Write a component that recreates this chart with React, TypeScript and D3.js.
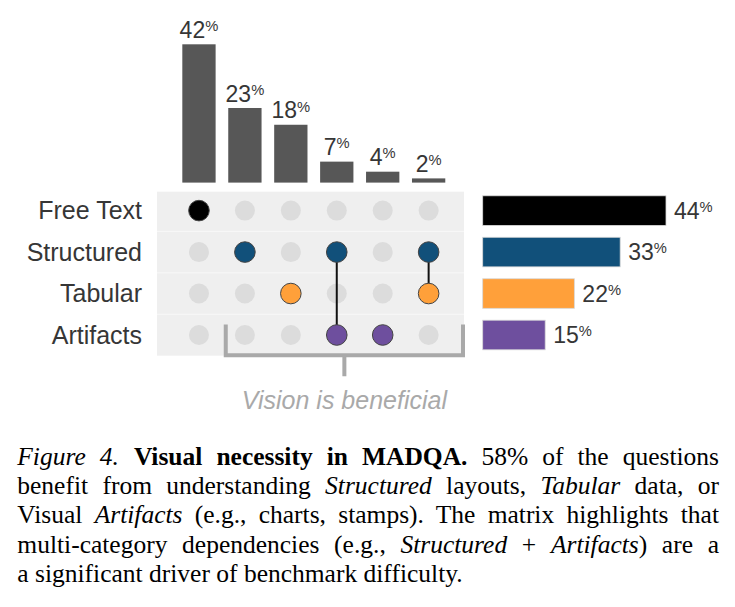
import React, { useLayoutEffect, useRef } from 'react';
import * as d3 from 'd3';

// categories (rows of the matrix) and their overall share
const categories = ['Free Text', 'Structured', 'Tabular', 'Artifacts'];
const categoryShares = [44, 33, 22, 15];
const categoryColors = ['#000000', '#11507a', '#ffa03a', '#6e4f9e'];

// intersections (columns) and their share of questions
const intersectionSets = [
  ['Free Text'],
  ['Structured'],
  ['Tabular'],
  ['Structured', 'Artifacts'],
  ['Artifacts'],
  ['Structured', 'Tabular'],
];
const intersectionShares = [42, 23, 18, 7, 4, 2];

const bracketLabel = 'Vision is beneficial';

const W = 735;
const H = 607;
const FONT = '"Liberation Sans", Arial, Helvetica, sans-serif';
const SERIF = '"Liberation Serif", "Times New Roman", Times, serif';
const TEXT = '#363636';
const FIG_GAP = 15;

export default function App() {
  const captionRefs = useRef<(SVGTextElement | null)[]>([]);

  // column scale shared by top bars and the matrix
  const x = d3.scaleBand<number>()
    .domain(intersectionSets.map((_, i) => i))
    .range([176, 451.6])
    .paddingInner(0.275)
    .paddingOuter(0.1375);
  const cx = (i: number) => (x(i) ?? 0) + x.bandwidth() / 2;

  // top bars: zero sits a little under the cut-off line
  const barBottom = 182.6;
  const y = d3.scaleLinear().domain([0, 42]).range([185.1, 44.3]);

  // rows
  const row = d3.scalePoint<string>().domain(categories).range([210.6, 335]);
  const rowStep = row.step();
  const matrixLeft = 157;
  const matrixRight = 464;
  const matrixTop = 191.7;
  const matrixBottom = 355.7;

  // right bars
  const xr = d3.scaleLinear().domain([0, 44]).range([482.7, 666]);

  const vision = [1, 2, 3, 4, 5];
  const bLeft = (x(vision[0]) ?? 0) - 2.5;
  const bRight = matrixRight - 1;
  const bMid = (bLeft + bRight) / 2;
  const bTop = (row('Artifacts') ?? 0) - 10.5;
  const bY = matrixBottom - 0.5;

  const captionLeft = 17.3;
  const captionRight = 719;
  const captionBase = 465;
  const captionStep = 29.2;

  // justify caption lines (all but the last) by stretching word spacing
  useLayoutEffect(() => {
    const els = captionRefs.current;
    els.forEach((el, i) => {
      if (!el || i === els.length - 1) return;
      el.style.wordSpacing = '0px';
      const w = el.getComputedTextLength() + (i === 0 ? FIG_GAP : 0);
      const spaces = (el.textContent || '').split(' ').length - 1;
      if (spaces > 0) el.style.wordSpacing = `${(captionRight - captionLeft - w) / spaces}px`;
    });
  }, []);

  const pct = (v: number, size: number) => (
    <>
      <tspan fontSize={size}>{v}</tspan>
      <tspan fontSize={size * 0.64} dy={-size * 0.3}>%</tspan>
    </>
  );

  const it = { fontStyle: 'italic' } as const;
  const captionLines: React.ReactNode[] = [
    <>
      <tspan style={it}>Figure 4.</tspan>
      <tspan dx={FIG_GAP} fontWeight="bold">Visual necessity in MADQA.</tspan> 58% of the questions
    </>,
    <>
      benefit from understanding <tspan style={it}>Structured</tspan> layouts, <tspan style={it}>Tabular</tspan> data, or
    </>,
    <>
      Visual <tspan style={it}>Artifacts</tspan> (e.g., charts, stamps). The matrix highlights that
    </>,
    <>
      multi-category dependencies (e.g., <tspan style={it}>Structured</tspan> + <tspan style={it}>Artifacts</tspan>) are a
    </>,
    <>a significant driver of benchmark difficulty.</>,
  ];

  return (
    <svg width={W} height={H} style={{ position: 'absolute', left: 0, top: 0, background: '#fff' }}>
      {/* top intersection bars */}
      {intersectionShares.map((v, i) => (
        <g key={`tb${i}`}>
          <rect x={x(i)} y={y(v)} width={x.bandwidth()} height={barBottom - y(v)} fill="#575757" />
          <text x={cx(i)} y={y(v) - 6.3} textAnchor="middle" fill={TEXT} fontFamily={FONT}>
            {pct(v, 23)}
          </text>
        </g>
      ))}

      {/* matrix background */}
      <rect x={matrixLeft} y={matrixTop} width={matrixRight - matrixLeft} height={matrixBottom - matrixTop} fill="#efefef" />
      {categories.slice(1).map((c) => (
        <line key={`sep${c}`} x1={matrixLeft} x2={matrixRight}
          y1={(row(c) ?? 0) - rowStep / 2} y2={(row(c) ?? 0) - rowStep / 2} stroke="#f8f8f8" strokeWidth={1} />
      ))}

      {/* row labels */}
      {categories.map((c) => (
        <text key={`rl${c}`} x={142} y={(row(c) ?? 0) + 8.8} textAnchor="end" fontSize={25} fill={TEXT} fontFamily={FONT}>
          {c}
        </text>
      ))}

      {/* empty dots */}
      {intersectionSets.map((set, i) =>
        categories.filter((c) => !set.includes(c)).map((c) => (
          <circle key={`e${i}${c}`} cx={cx(i)} cy={row(c)} r={10} fill="#dcdcdc" />
        ))
      )}

      {/* connectors */}
      {intersectionSets.map((set, i) => {
        if (set.length < 2) return null;
        const ys = set.map((c) => row(c) ?? 0);
        return <line key={`ln${i}`} x1={cx(i)} x2={cx(i)} y1={d3.min(ys)} y2={d3.max(ys)} stroke="#111" strokeWidth={2} />;
      })}

      {/* filled dots */}
      {intersectionSets.map((set, i) =>
        set.map((c) => (
          <circle key={`f${i}${c}`} cx={cx(i)} cy={row(c)} r={10.3}
            fill={categoryColors[categories.indexOf(c)]} stroke="#444" strokeWidth={1} />
        ))
      )}

      {/* bracket */}
      <path d={`M${bLeft},${bTop}V${bY}H${bRight}V${bTop}M${bMid},${bY}V${bY + 21}`}
        fill="none" stroke="#a9a9a9" strokeWidth={4} />
      <text x={bMid} y={409.3} textAnchor="middle" fontSize={25} fontStyle="italic" fill="#a9a9a9" fontFamily={FONT}>
        {bracketLabel}
      </text>

      {/* right category bars */}
      {categories.map((c, i) => (
        <g key={`rb${c}`}>
          <rect x={xr(0)} y={(row(c) ?? 0) - 14.8} width={xr(categoryShares[i]) - xr(0)} height={29.6}
            fill={categoryColors[i]} stroke="#d8d8d8" strokeWidth={0.8} />
          <text x={xr(categoryShares[i]) + 8} y={(row(c) ?? 0) + 8.3} fill={TEXT} fontFamily={FONT}>
            {pct(categoryShares[i], 23)}
          </text>
        </g>
      ))}

      {/* caption */}
      {captionLines.map((ln, i) => (
        <text key={`cap${i}`} ref={(el) => { captionRefs.current[i] = el; }}
          x={captionLeft} y={captionBase + i * captionStep} fontSize={25.5} fill="#000" fontFamily={SERIF}>
          {ln}
        </text>
      ))}
    </svg>
  );
}
